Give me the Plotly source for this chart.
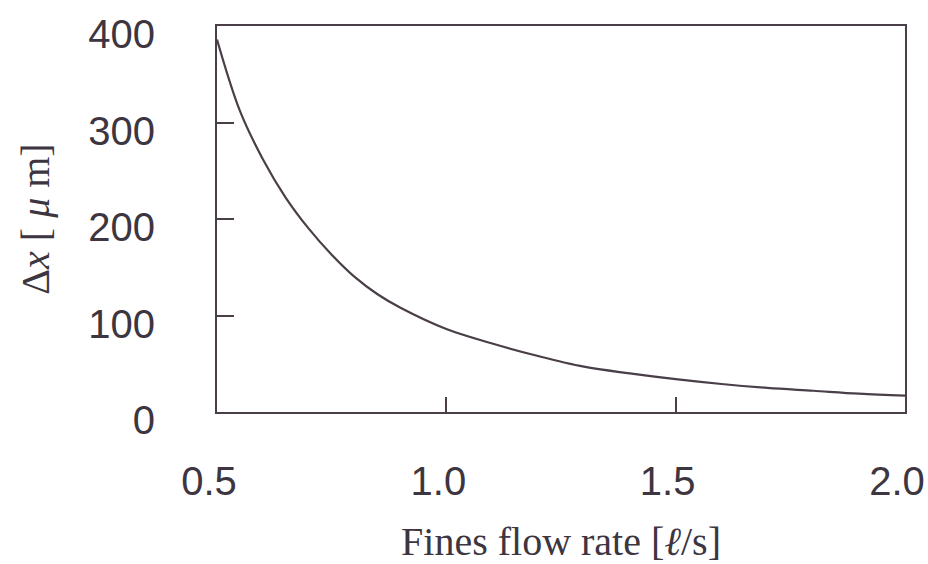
import plotly.graph_objects as go

flow_rate = [0.50, 0.55, 0.60, 0.65, 0.70, 0.75, 0.80, 0.85, 0.90, 1.00, 1.10, 1.20, 1.30, 1.40, 1.50, 1.60, 1.70, 1.80, 1.90, 2.00]
delta_x = [386, 312, 262, 222, 190, 163, 140, 122, 108, 86, 71, 58, 47, 40, 34, 29, 25, 22, 19, 17]

x_ticks = [0.5, 1.0, 1.5, 2.0]
x_tick_text = ["0.5", "1.0", "1.5", "2.0"]
y_ticks = [0, 100, 200, 300, 400]
y_tick_text = ["0", "100", "200", "300", "400"]

ink = "#4a3f48"
text_ink = "#3d3540"

fig = go.Figure()
fig.add_trace(go.Scatter(
    x=flow_rate, y=delta_x, mode="lines",
    line=dict(color=ink, width=2.2, shape="spline", smoothing=1.0),
    showlegend=False, hoverinfo="skip", cliponaxis=False))

fig.update_layout(
    width=928, height=564,
    margin=dict(l=217, r=23, t=26, b=152),
    paper_bgcolor="white", plot_bgcolor="white",
    font=dict(family="Liberation Sans", color=text_ink),
    xaxis=dict(
        range=[0.5, 2.0], tickvals=x_ticks, ticktext=x_tick_text,
        ticks="inside", ticklen=15, tickwidth=2, tickcolor=ink,
        showline=True, linecolor=ink, linewidth=2, mirror=True,
        showgrid=False, zeroline=False, automargin=False,
        tickfont=dict(family="Liberation Sans", size=40, color=text_ink),
        ticklabelstandoff=33, ticklabelshift=-8,
        title=dict(text="Fines flow rate [<i>ℓ</i>/s]",
                   font=dict(family="Liberation Serif", size=40, color=text_ink),
                   standoff=28),
    ),
    yaxis=dict(
        range=[0, 400], tickvals=y_ticks, ticktext=y_tick_text,
        ticks="inside", ticklen=17, tickwidth=2, tickcolor=ink,
        showline=True, linecolor=ink, linewidth=2, mirror=True,
        showgrid=False, zeroline=False, automargin=False,
        tickfont=dict(family="Liberation Sans", size=40, color=text_ink),
        ticklabelstandoff=52, ticklabelshift=8,
        title=dict(text="Δ<i>x</i> [ <i>μ</i> m]",
                   font=dict(family="Liberation Serif", size=40, color=text_ink),
                   standoff=26),
    ),
)

fig.write_html("out.html")
